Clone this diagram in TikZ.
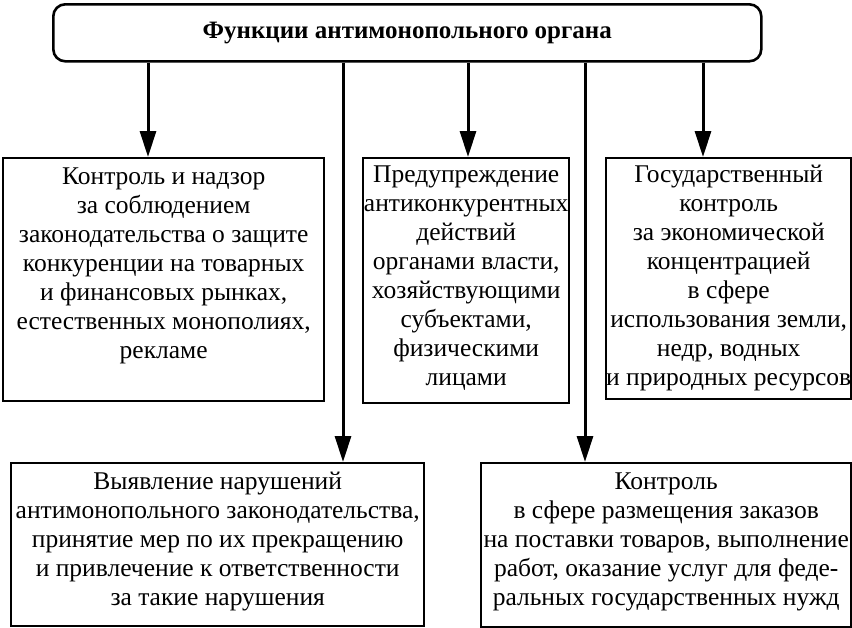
\documentclass[tikz,border=0pt]{standalone}
\usepackage{fontspec}
\setmainfont{Liberation Serif}
\usetikzlibrary{arrows.meta}
\newcommand\mybox[4]{\parbox[c][#2pt][t]{#1pt}{\centering\rule{0pt}{#3pt}\ignorespaces#4\par}}
\begin{document}
\begin{tikzpicture}[x=1pt,y=-1pt,
  fbox/.style={draw, line width=2.4pt, inner sep=0pt, anchor=north west,
    font=\fontsize{25.5}{29}\selectfont},
  titlebox/.style={draw, line width=2.6pt, rounded corners=12pt, inner sep=0pt,
    anchor=north west, font=\fontsize{25}{28}\selectfont\bfseries},
  arr/.style={line width=3pt, -{Triangle[length=26pt,width=16pt]}},
]
\useasboundingbox (0,0) rectangle (852,627);
\node[titlebox, minimum width=708pt, minimum height=57pt] (top) at (52,3)
  {Функции антимонопольного органа};
\node[fbox] (b1) at (2,157) {\mybox{321}{243}{26}{Контроль и надзор\\ за соблюдением\\ законодательства о защите\\ конкуренции на товарных\\ и финансовых рынках,\\ естественных монополиях,\\ рекламе}};
\node[fbox] (b2) at (362,157) {\mybox{206}{245}{24}{Предупреждение\\ антиконкурентных\\ действий\\ органами власти,\\ хозяйствующими\\ субъектами,\\ физическими\\ лицами}};
\node[fbox] (b3) at (605,157) {\mybox{245}{241}{24}{Государственный\\ контроль\\ за экономической\\ концентрацией\\ в сфере\\ использования земли,\\ недр, водных\\ и природных ресурсов}};
\node[fbox] (b4) at (10,462) {\mybox{413}{163}{26}{Выявление нарушений\\ антимонопольного законодательства,\\ принятие мер по их прекращению\\ и привлечение к ответственности\\ за такие нарушения}};
\node[fbox] (b5) at (480,462) {\mybox{370}{164}{26}{Контроль\\ в сфере размещения заказов\\ на поставки товаров, выполнение\\ работ, оказание услуг для феде-\\ральных государственных нужд}};
\coordinate (x1) at (148,0);
\coordinate (x2) at (343,0);
\coordinate (x3) at (468,0);
\coordinate (x4) at (585,0);
\coordinate (x5) at (703,0);
\draw[arr] (x1 |- top.south) -- (x1 |- b1.north);
\draw[arr] (x2 |- top.south) -- (x2 |- b4.north);
\draw[arr] (x3 |- top.south) -- (x3 |- b2.north);
\draw[arr] (x4 |- top.south) -- (x4 |- b5.north);
\draw[arr] (x5 |- top.south) -- (x5 |- b3.north);
\end{tikzpicture}
\end{document}
